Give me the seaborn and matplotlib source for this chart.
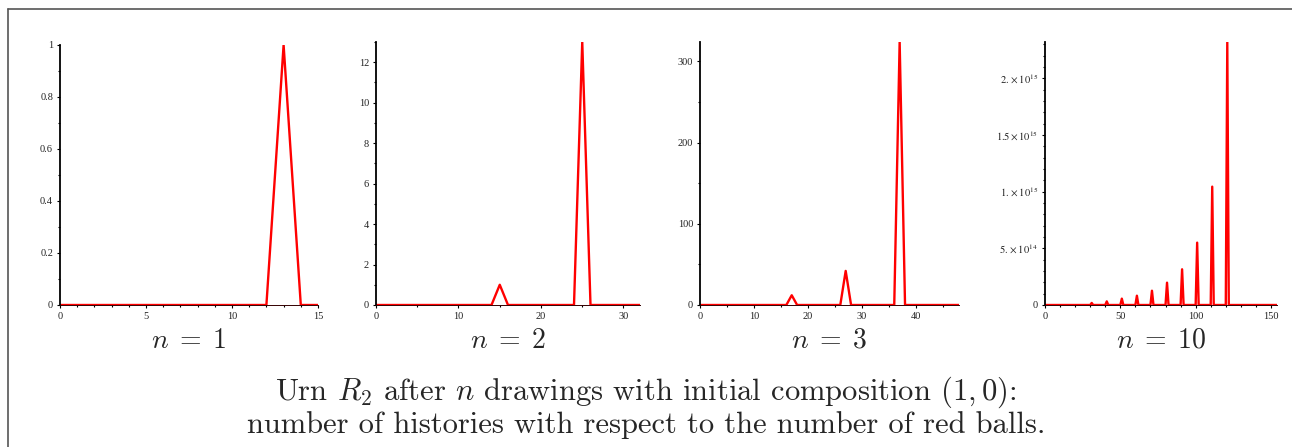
import matplotlib
matplotlib.use('Agg')
import matplotlib.pyplot as plt
from matplotlib.lines import Line2D
from matplotlib.ticker import MultipleLocator
import numpy as np
import pandas as pd
import seaborn as sns

# number of histories per number of red balls
x_max = [15, 32, 48, 154]
peak_x = [
    [13],
    [15, 25],
    [17, 27, 37],
    [31, 41, 51, 61, 71, 81, 91, 101, 111, 121],
]
peak_y = [
    [1],
    [1, 13],
    [12, 42, 324],
    [1.8e13, 3.2e13, 5.6e13, 8.2e13, 1.26e14, 1.97e14, 3.15e14, 5.5e14, 1.044e15, 2.32e15],
]
panel_labels = [r'$n\;=\;1$', r'$n\;=\;2$', r'$n\;=\;3$', r'$n\;=\;10$']

y_ticks = [
    [0, 0.2, 0.4, 0.6, 0.8, 1],
    [0, 2, 4, 6, 8, 10, 12],
    [0, 100, 200, 300],
    [0, 5e14, 1e15, 1.5e15, 2e15],
]
y_tick_labels = [
    ['0', '0.2', '0.4', '0.6', '0.8', '1'],
    ['0', '2', '4', '6', '8', '10', '12'],
    ['0', '100', '200', '300'],
    ['0', r'$5.\times10^{14}$', r'$1.\times10^{15}$', r'$1.5\times10^{15}$', r'$2.\times10^{15}$'],
]
y_minor = [0.1, 1, 50, 1e14]
x_ticks = [[0, 5, 10, 15], [0, 10, 20, 30], [0, 10, 20, 30, 40], [0, 50, 100, 150]]
x_minor = [1, 5, 5, 10]

sns.set_style('white')
plt.rcParams['mathtext.fontset'] = 'cm'
plt.rcParams['font.family'] = ['Liberation Serif', 'DejaVu Serif']

W, H = 1292, 447
fig = plt.figure(figsize=(W / 100, H / 100), dpi=100)

# axes boxes in pixels: left, right, top (bottom is the zero line)
boxes = [(60, 318, 45), (376, 640, 42), (700, 959, 42), (1045, 1277, 42)]
bottom_px = 305

for i, (l, r, t) in enumerate(boxes):
    ax = fig.add_axes([l / W, 1 - bottom_px / H, (r - l) / W, (bottom_px - t) / H])
    xs = np.arange(0, x_max[i] + 1)
    ys = np.zeros(len(xs))
    ys[peak_x[i]] = peak_y[i]
    df = pd.DataFrame({'red': xs, 'histories': ys})
    sns.lineplot(data=df, x='red', y='histories', ax=ax, color='#ff0000',
                 linewidth=1.7, zorder=1)
    ax.set_xlim(0, x_max[i])
    ax.set_ylim(0, max(peak_y[i]))
    ax.set_xlabel('')
    ax.set_ylabel('')
    ax.patch.set_alpha(0)
    for s in ['top', 'right']:
        ax.spines[s].set_visible(False)
    ax.spines['left'].set_linewidth(1.3)
    ax.spines['left'].set_color('black')
    ax.spines['bottom'].set_linewidth(0.7)
    ax.spines['bottom'].set_color('#330000')
    ax.spines['left'].set_zorder(3)
    ax.spines['bottom'].set_zorder(3)

    ax.set_yticks(y_ticks[i])
    ax.set_yticklabels(y_tick_labels[i], fontsize=7.5, color='#222222',
                       math_fontfamily='stix')
    ax.yaxis.set_minor_locator(MultipleLocator(y_minor[i]))
    ax.set_xticks(x_ticks[i])
    ax.set_xticklabels([str(v) for v in x_ticks[i]], fontsize=7.5, color='#222222')
    ax.xaxis.set_minor_locator(MultipleLocator(x_minor[i]))
    ax.tick_params(which='major', direction='out', length=2.5, width=0.8,
                   color='black', pad=2.5, left=True, bottom=True)
    ax.tick_params(which='minor', direction='out', length=1.5, width=0.8,
                   color='black', left=True, bottom=True)

    fig.text((l + r) / 2 / W, 1 - 341 / H, panel_labels[i], fontsize=20,
             ha='center', va='center')

fig.text(0.5, 1 - 392 / H,
         r'Urn $R_2$ after $n$ drawings with initial composition $(1,0)$:',
         fontsize=22, ha='center', va='center', family='cmr10')
fig.text(0.5, 1 - 425 / H,
         'number of histories with respect to the number of red balls.',
         fontsize=22, ha='center', va='center', family='cmr10')

# frame round the figure
fig.add_artist(Line2D([7.5 / W, 7.5 / W], [0, 1 - 9 / H], color='#555555', lw=1.2))
fig.add_artist(Line2D([7.5 / W, 1], [1 - 9 / H, 1 - 9 / H], color='#555555', lw=1.2))

fig.savefig('out.png', dpi=100)
